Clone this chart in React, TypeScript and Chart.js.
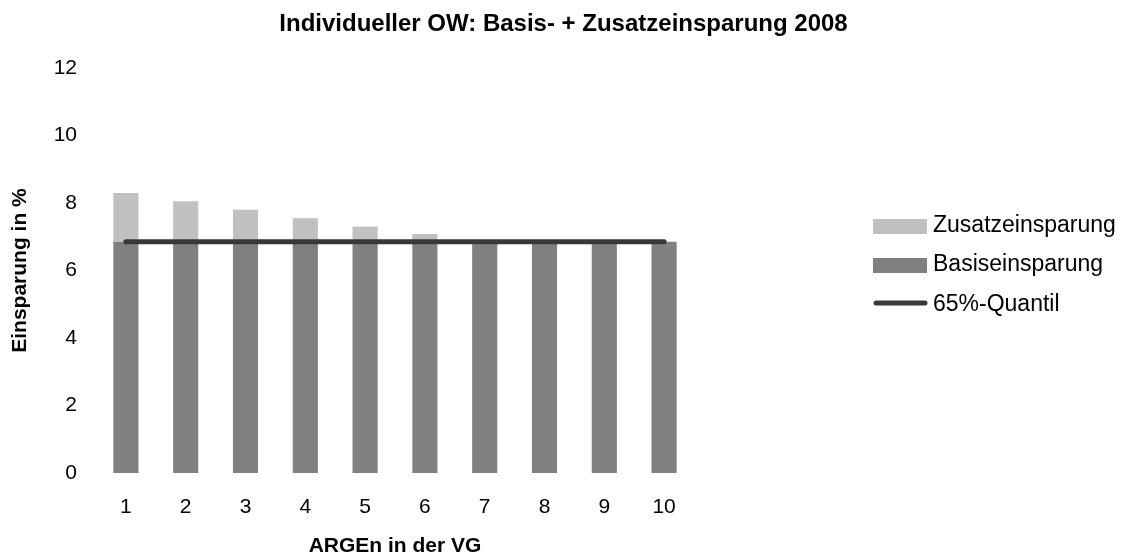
import React, { useEffect, useRef } from "react";
import { Chart, registerables } from "chart.js";

Chart.register(...registerables);

const categories = ["1", "2", "3", "4", "5", "6", "7", "8", "9", "10"];
const basisValues = [6.85, 6.85, 6.85, 6.85, 6.85, 6.85, 6.85, 6.85, 6.85, 6.85];
const zusatzValues = [1.45, 1.2, 0.95, 0.7, 0.45, 0.23, 0, 0, 0, 0];
const quantilValues = [6.85, 6.85, 6.85, 6.85, 6.85, 6.85, 6.85, 6.85, 6.85, 6.85];

const chartTitle = "Individueller OW: Basis- + Zusatzeinsparung 2008";
const xTitle = "ARGEn in der VG";
const yTitle = "Einsparung in %";
const legendLabels = ["Zusatzeinsparung", "Basiseinsparung", "65%-Quantil"];

const FONT = "'Liberation Sans', Arial, Helvetica, sans-serif";
const COLOR_ZUSATZ = "#c0c0c0";
const COLOR_BASIS = "#808080";
const COLOR_LINE = "#383838";

const W = 1127;
const H = 556;

const overlayPlugin = {
  id: "overlay",
  afterDraw(chart: any) {
    const ctx = chart.ctx as CanvasRenderingContext2D;
    ctx.save();
    // Title
    ctx.fillStyle = "#000";
    ctx.font = `bold 24px ${FONT}`;
    ctx.textAlign = "center";
    ctx.textBaseline = "alphabetic";
    ctx.fillText(chartTitle, W / 2, 31);

    // Legend
    ctx.textAlign = "left";
    ctx.font = `23px ${FONT}`;
    const bx = 873;
    const bw = 54;
    ctx.fillStyle = COLOR_ZUSATZ;
    ctx.fillRect(bx, 219, bw, 15);
    ctx.fillStyle = COLOR_BASIS;
    ctx.fillRect(bx, 258, bw, 15);
    ctx.strokeStyle = COLOR_LINE;
    ctx.lineWidth = 5;
    ctx.lineCap = "round";
    ctx.beginPath();
    ctx.moveTo(bx + 3, 303);
    ctx.lineTo(bx + bw - 2, 303);
    ctx.stroke();
    ctx.fillStyle = "#000";
    ctx.fillText(legendLabels[0], 933, 232);
    ctx.fillText(legendLabels[1], 933, 271);
    ctx.fillText(legendLabels[2], 933, 311);
    ctx.restore();
  },
};

export default function App() {
  const ref = useRef<HTMLCanvasElement | null>(null);

  useEffect(() => {
    if (!ref.current) return;
    const chart = new Chart(ref.current, {
      type: "bar",
      data: {
        labels: categories,
        datasets: [
          {
            type: "bar",
            label: legendLabels[1],
            data: basisValues,
            backgroundColor: COLOR_BASIS,
            borderWidth: 0,
            barPercentage: 0.42,
            categoryPercentage: 1.0,
            order: 2,
          },
          {
            type: "bar",
            label: legendLabels[0],
            data: zusatzValues,
            backgroundColor: COLOR_ZUSATZ,
            borderWidth: 0,
            barPercentage: 0.42,
            categoryPercentage: 1.0,
            order: 2,
          },
          {
            type: "line",
            label: legendLabels[2],
            data: quantilValues,
            borderColor: COLOR_LINE,
            backgroundColor: COLOR_LINE,
            borderWidth: 5,
            borderCapStyle: "round",
            pointRadius: 0,
            tension: 0,
            order: 1,
          } as any,
        ],
      },
      options: {
        animation: false,
        responsive: false,
        layout: { padding: { top: 68, right: 433, bottom: 0, left: 0 } },
        plugins: {
          legend: { display: false },
          title: { display: false },
          tooltip: { enabled: false },
        },
        scales: {
          x: {
            stacked: true,
            grid: { display: false, drawTicks: false },
            border: { display: false },
            ticks: { color: "#000", font: { family: FONT, size: 21 }, padding: 22 },
            title: {
              display: true,
              text: xTitle,
              color: "#000",
              font: { family: FONT, size: 21, weight: "bold", lineHeight: 1.2 },
              padding: { top: 0, bottom: -3 },
            },
            afterFit: (scale: any) => {
              scale.height = 83;
            },
          },
          y: {
            stacked: true,
            min: 0,
            max: 12,
            grid: { display: false, drawTicks: false },
            border: { display: false },
            ticks: {
              stepSize: 2,
              color: "#000",
              font: { family: FONT, size: 21 },
              padding: 19,
            },
            title: {
              display: true,
              text: yTitle,
              color: "#000",
              font: { family: FONT, size: 21, weight: "bold", lineHeight: 1.2 },
              padding: { top: 8, bottom: 0 },
            },
            afterFit: (scale: any) => {
              scale.width = 96;
            },
          },
        },
      },
      plugins: [overlayPlugin],
    });
    return () => chart.destroy();
  }, []);

  return (
    <div
      style={{
        position: "fixed",
        left: 0,
        top: 0,
        width: W,
        height: H,
        overflow: "hidden",
        background: "#fff",
      }}
    >
      <canvas ref={ref} width={W} height={H} style={{ display: "block" }} />
    </div>
  );
}
